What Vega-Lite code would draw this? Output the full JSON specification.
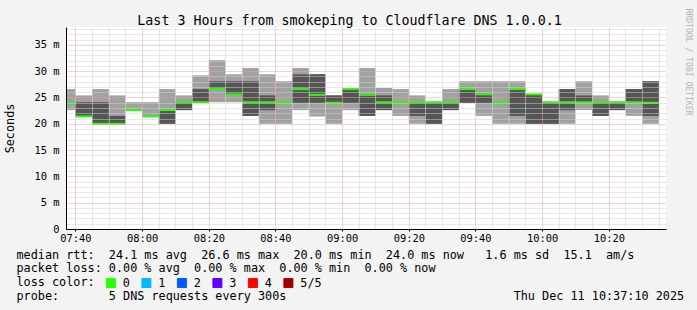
{
  "$schema": "https://vega.github.io/schema/vega-lite/v6.json",
  "width": 600,
  "height": 202,
  "autosize": "none",
  "padding": {"left": 66, "top": 27, "right": 31, "bottom": 81},
  "background": "#f3f3f3",
  "config": {
    "view": {"fill": "#ffffff", "stroke": null},
    "font": "DejaVu Sans Mono"
  },
  "data": {
    "values": [
      {"s": "2025-12-11T07:35", "e": "2025-12-11T07:40", "p1": 22.6, "p2": 24.0, "med": 24.0, "p4": 24.0, "p5": 26.6, "loss": "0"},
      {"s": "2025-12-11T07:40", "e": "2025-12-11T07:45", "p1": 21.4, "p2": 21.4, "med": 21.4, "p4": 24.1, "p5": 25.4, "loss": "0"},
      {"s": "2025-12-11T07:45", "e": "2025-12-11T07:50", "p1": 20.0, "p2": 20.0, "med": 20.0, "p4": 24.1, "p5": 26.6, "loss": "0"},
      {"s": "2025-12-11T07:50", "e": "2025-12-11T07:55", "p1": 20.0, "p2": 20.0, "med": 20.0, "p4": 21.5, "p5": 25.4, "loss": "0"},
      {"s": "2025-12-11T07:55", "e": "2025-12-11T08:00", "p1": 22.6, "p2": 22.6, "med": 22.6, "p4": 22.6, "p5": 24.1, "loss": "0"},
      {"s": "2025-12-11T08:00", "e": "2025-12-11T08:05", "p1": 21.4, "p2": 21.4, "med": 21.4, "p4": 21.4, "p5": 24.1, "loss": "0"},
      {"s": "2025-12-11T08:05", "e": "2025-12-11T08:10", "p1": 20.0, "p2": 20.0, "med": 22.6, "p4": 22.6, "p5": 26.6, "loss": "0"},
      {"s": "2025-12-11T08:10", "e": "2025-12-11T08:15", "p1": 22.6, "p2": 22.6, "med": 24.1, "p4": 24.1, "p5": 25.4, "loss": "0"},
      {"s": "2025-12-11T08:15", "e": "2025-12-11T08:20", "p1": 24.1, "p2": 24.1, "med": 24.1, "p4": 26.6, "p5": 29.2, "loss": "0"},
      {"s": "2025-12-11T08:20", "e": "2025-12-11T08:25", "p1": 24.1, "p2": 26.6, "med": 26.6, "p4": 28.1, "p5": 32.1, "loss": "0"},
      {"s": "2025-12-11T08:25", "e": "2025-12-11T08:30", "p1": 24.1, "p2": 25.6, "med": 25.6, "p4": 28.1, "p5": 29.4, "loss": "0"},
      {"s": "2025-12-11T08:30", "e": "2025-12-11T08:35", "p1": 21.5, "p2": 21.5, "med": 24.1, "p4": 28.1, "p5": 30.6, "loss": "0"},
      {"s": "2025-12-11T08:35", "e": "2025-12-11T08:40", "p1": 20.0, "p2": 22.6, "med": 24.1, "p4": 25.4, "p5": 29.4, "loss": "0"},
      {"s": "2025-12-11T08:40", "e": "2025-12-11T08:45", "p1": 20.0, "p2": 24.1, "med": 24.1, "p4": 24.1, "p5": 28.1, "loss": "0"},
      {"s": "2025-12-11T08:45", "e": "2025-12-11T08:50", "p1": 22.6, "p2": 24.0, "med": 26.6, "p4": 29.4, "p5": 30.6, "loss": "0"},
      {"s": "2025-12-11T08:50", "e": "2025-12-11T08:55", "p1": 21.4, "p2": 24.0, "med": 25.5, "p4": 29.4, "p5": 29.4, "loss": "0"},
      {"s": "2025-12-11T08:55", "e": "2025-12-11T09:00", "p1": 20.0, "p2": 24.0, "med": 24.0, "p4": 25.4, "p5": 25.4, "loss": "0"},
      {"s": "2025-12-11T09:00", "e": "2025-12-11T09:05", "p1": 22.6, "p2": 24.0, "med": 26.6, "p4": 26.6, "p5": 26.6, "loss": "0"},
      {"s": "2025-12-11T09:05", "e": "2025-12-11T09:10", "p1": 21.5, "p2": 21.5, "med": 25.5, "p4": 25.5, "p5": 30.6, "loss": "0"},
      {"s": "2025-12-11T09:10", "e": "2025-12-11T09:15", "p1": 22.6, "p2": 22.6, "med": 24.1, "p4": 25.4, "p5": 26.8, "loss": "0"},
      {"s": "2025-12-11T09:15", "e": "2025-12-11T09:20", "p1": 21.5, "p2": 24.1, "med": 24.1, "p4": 24.1, "p5": 26.6, "loss": "0"},
      {"s": "2025-12-11T09:20", "e": "2025-12-11T09:25", "p1": 20.0, "p2": 21.5, "med": 24.1, "p4": 24.1, "p5": 25.4, "loss": "0"},
      {"s": "2025-12-11T09:25", "e": "2025-12-11T09:30", "p1": 20.0, "p2": 20.0, "med": 24.1, "p4": 24.1, "p5": 24.1, "loss": "0"},
      {"s": "2025-12-11T09:30", "e": "2025-12-11T09:35", "p1": 22.6, "p2": 22.6, "med": 24.1, "p4": 24.1, "p5": 26.6, "loss": "0"},
      {"s": "2025-12-11T09:35", "e": "2025-12-11T09:40", "p1": 24.0, "p2": 24.0, "med": 26.6, "p4": 26.6, "p5": 28.1, "loss": "0"},
      {"s": "2025-12-11T09:40", "e": "2025-12-11T09:45", "p1": 21.5, "p2": 24.0, "med": 25.6, "p4": 25.6, "p5": 28.1, "loss": "0"},
      {"s": "2025-12-11T09:45", "e": "2025-12-11T09:50", "p1": 20.0, "p2": 24.1, "med": 24.1, "p4": 24.1, "p5": 28.1, "loss": "0"},
      {"s": "2025-12-11T09:50", "e": "2025-12-11T09:55", "p1": 20.0, "p2": 21.5, "med": 26.6, "p4": 26.6, "p5": 28.1, "loss": "0"},
      {"s": "2025-12-11T09:55", "e": "2025-12-11T10:00", "p1": 20.0, "p2": 20.0, "med": 25.6, "p4": 25.6, "p5": 25.6, "loss": "0"},
      {"s": "2025-12-11T10:00", "e": "2025-12-11T10:05", "p1": 20.0, "p2": 20.0, "med": 24.1, "p4": 24.1, "p5": 24.1, "loss": "0"},
      {"s": "2025-12-11T10:05", "e": "2025-12-11T10:10", "p1": 20.0, "p2": 22.6, "med": 24.1, "p4": 26.6, "p5": 26.6, "loss": "0"},
      {"s": "2025-12-11T10:10", "e": "2025-12-11T10:15", "p1": 22.6, "p2": 24.1, "med": 24.1, "p4": 25.4, "p5": 28.1, "loss": "0"},
      {"s": "2025-12-11T10:15", "e": "2025-12-11T10:20", "p1": 21.5, "p2": 21.5, "med": 24.1, "p4": 24.1, "p5": 25.4, "loss": "0"},
      {"s": "2025-12-11T10:20", "e": "2025-12-11T10:25", "p1": 22.6, "p2": 22.6, "med": 24.1, "p4": 24.1, "p5": 24.1, "loss": "0"},
      {"s": "2025-12-11T10:25", "e": "2025-12-11T10:30", "p1": 21.5, "p2": 24.1, "med": 24.1, "p4": 26.6, "p5": 26.6, "loss": "0"},
      {"s": "2025-12-11T10:30", "e": "2025-12-11T10:35", "p1": 20.0, "p2": 21.5, "med": 24.0, "p4": 28.1, "p5": 28.1, "loss": "0"}
    ]
  },
  "resolve": {"axis": {"x": "independent", "y": "independent"}},
  "layer": [
    {
      "mark": {"type": "rect", "color": "#a1a1a1", "clip": true},
      "encoding": {
        "x": {
          "field": "s", "type": "temporal",
          "scale": {"domain": [
            {"year": 2025, "month": 12, "date": 11, "hours": 7, "minutes": 37, "seconds": 10},
            {"year": 2025, "month": 12, "date": 11, "hours": 10, "minutes": 37, "seconds": 10}
          ]},
          "axis": {
            "orient": "bottom",
            "values": [
              {"year": 2025, "month": 12, "date": 11, "hours": 7, "minutes": 40},
              {"year": 2025, "month": 12, "date": 11, "hours": 8, "minutes": 0},
              {"year": 2025, "month": 12, "date": 11, "hours": 8, "minutes": 20},
              {"year": 2025, "month": 12, "date": 11, "hours": 8, "minutes": 40},
              {"year": 2025, "month": 12, "date": 11, "hours": 9, "minutes": 0},
              {"year": 2025, "month": 12, "date": 11, "hours": 9, "minutes": 20},
              {"year": 2025, "month": 12, "date": 11, "hours": 9, "minutes": 40},
              {"year": 2025, "month": 12, "date": 11, "hours": 10, "minutes": 0},
              {"year": 2025, "month": 12, "date": 11, "hours": 10, "minutes": 20}
            ],
            "format": "%H:%M",
            "labelOverlap": false,
            "labelFlush": false,
            "labelFont": "DejaVu Sans Mono",
            "labelFontSize": 10.4,
            "labelColor": "#000000",
            "labelPadding": 2,
            "grid": true,
            "gridColor": "#f2a0a0",
            "gridDash": [1, 1],
            "gridOpacity": 1,
            "ticks": true,
            "tickSize": 2,
            "tickColor": "#000000",
            "domainColor": "#000000",
            "zindex": 1,
            "title": [
              "median rtt:\u00a0\u00a024.1\u00a0ms\u00a0avg\u00a0\u00a026.6\u00a0ms\u00a0max\u00a0\u00a020.0\u00a0ms\u00a0min\u00a0\u00a024.0\u00a0ms\u00a0now\u00a0\u00a0\u00a01.6\u00a0ms\u00a0sd\u00a0\u00a015.1\u00a0\u00a0am/s",
              "packet\u00a0loss:\u00a00.00\u00a0%\u00a0avg\u00a0\u00a00.00\u00a0%\u00a0max\u00a0\u00a00.00\u00a0%\u00a0min\u00a0\u00a00.00\u00a0%\u00a0now",
              "loss\u00a0color:",
              "probe:\u00a0\u00a0\u00a0\u00a0\u00a0\u00a0\u00a05\u00a0DNS\u00a0requests\u00a0every\u00a0300s\u00a0\u00a0\u00a0\u00a0\u00a0\u00a0\u00a0\u00a0\u00a0\u00a0\u00a0\u00a0\u00a0\u00a0\u00a0\u00a0\u00a0\u00a0\u00a0\u00a0\u00a0\u00a0\u00a0\u00a0\u00a0\u00a0\u00a0\u00a0\u00a0\u00a0\u00a0\u00a0Thu\u00a0Dec\u00a011\u00a010:37:10\u00a02025"
            ],
            "titleFont": "DejaVu Sans Mono",
            "titleFontSize": 11.8,
            "titleFontWeight": "normal",
            "titleColor": "#000000",
            "titleAlign": "left",
            "titleAnchor": "start",
            "titleBaseline": "top",
            "titleLineHeight": 13.8,
            "titleX": -50,
            "titleY": 20
          }
        },
        "x2": {"field": "e"},
        "y": {
          "field": "p1", "type": "quantitative",
          "scale": {"domain": [0, 38.4], "nice": false},
          "axis": {
            "orient": "left",
            "values": [0, 5, 10, 15, 20, 25, 30, 35],
            "labelExpr": "datum.value === 0 ? '0\u00a0\u00a0' : datum.value + '\u00a0m'",
            "labelFont": "DejaVu Sans Mono",
            "labelFontSize": 10.4,
            "labelColor": "#000000",
            "labelPadding": 7,
            "labelOverlap": false,
            "ticks": false,
            "grid": true,
            "gridColor": "#f2a0a0",
            "gridDash": [1, 1],
            "gridOpacity": 1,
            "domainColor": "#000000",
            "zindex": 1,
            "title": "Seconds",
            "titleFont": "DejaVu Sans Mono",
            "titleFontSize": 11.8,
            "titleFontWeight": "normal",
            "titleColor": "#000000",
            "titlePadding": 18
          }
        },
        "y2": {"field": "p5"}
      }
    },
    {
      "mark": {"type": "rect", "color": "#555555", "clip": true},
      "encoding": {
        "x": {
          "field": "s", "type": "temporal",
          "axis": {
            "orient": "top",
            "values": [
              {"year": 2025, "month": 12, "date": 11, "hours": 7, "minutes": 45},
              {"year": 2025, "month": 12, "date": 11, "hours": 7, "minutes": 50},
              {"year": 2025, "month": 12, "date": 11, "hours": 7, "minutes": 55},
              {"year": 2025, "month": 12, "date": 11, "hours": 8, "minutes": 5},
              {"year": 2025, "month": 12, "date": 11, "hours": 8, "minutes": 10},
              {"year": 2025, "month": 12, "date": 11, "hours": 8, "minutes": 15},
              {"year": 2025, "month": 12, "date": 11, "hours": 8, "minutes": 25},
              {"year": 2025, "month": 12, "date": 11, "hours": 8, "minutes": 30},
              {"year": 2025, "month": 12, "date": 11, "hours": 8, "minutes": 35},
              {"year": 2025, "month": 12, "date": 11, "hours": 8, "minutes": 45},
              {"year": 2025, "month": 12, "date": 11, "hours": 8, "minutes": 50},
              {"year": 2025, "month": 12, "date": 11, "hours": 8, "minutes": 55},
              {"year": 2025, "month": 12, "date": 11, "hours": 9, "minutes": 5},
              {"year": 2025, "month": 12, "date": 11, "hours": 9, "minutes": 10},
              {"year": 2025, "month": 12, "date": 11, "hours": 9, "minutes": 15},
              {"year": 2025, "month": 12, "date": 11, "hours": 9, "minutes": 25},
              {"year": 2025, "month": 12, "date": 11, "hours": 9, "minutes": 30},
              {"year": 2025, "month": 12, "date": 11, "hours": 9, "minutes": 35},
              {"year": 2025, "month": 12, "date": 11, "hours": 9, "minutes": 45},
              {"year": 2025, "month": 12, "date": 11, "hours": 9, "minutes": 50},
              {"year": 2025, "month": 12, "date": 11, "hours": 9, "minutes": 55},
              {"year": 2025, "month": 12, "date": 11, "hours": 10, "minutes": 5},
              {"year": 2025, "month": 12, "date": 11, "hours": 10, "minutes": 10},
              {"year": 2025, "month": 12, "date": 11, "hours": 10, "minutes": 15},
              {"year": 2025, "month": 12, "date": 11, "hours": 10, "minutes": 25},
              {"year": 2025, "month": 12, "date": 11, "hours": 10, "minutes": 30},
              {"year": 2025, "month": 12, "date": 11, "hours": 10, "minutes": 35}
            ],
            "labels": false, "ticks": false, "domain": false, "title": null,
            "grid": true,
            "gridColor": "#d0d0d0",
            "gridDash": [1, 1],
            "gridOpacity": 1,
            "zindex": 1
          }
        },
        "x2": {"field": "e"},
        "y": {
          "field": "p2", "type": "quantitative",
          "axis": {
            "orient": "right",
            "values": [1,2,3,4,6,7,8,9,11,12,13,14,16,17,18,19,21,22,23,24,26,27,28,29,31,32,33,34,36,37,38],
            "labels": false, "ticks": false, "domain": false, "title": null,
            "grid": true,
            "gridColor": "#d0d0d0",
            "gridDash": [1, 1],
            "gridOpacity": 1,
            "zindex": 1
          }
        },
        "y2": {"field": "p4"}
      }
    },
    {
      "mark": {"type": "rule", "strokeWidth": 2, "clip": true},
      "encoding": {
        "x": {
          "field": "s", "type": "temporal",
          "axis": {
            "orient": "top",
            "labels": false, "ticks": false, "domain": false, "grid": false,
            "title": "Last 3 Hours from smokeping to Cloudflare DNS 1.0.0.1",
            "titleFont": "DejaVu Sans Mono",
            "titleFontSize": 13.3,
            "titleFontWeight": "normal",
            "titleColor": "#000000",
            "titleAlign": "center",
            "titleBaseline": "middle",
            "titleX": 283,
            "titleY": -7
          }
        },
        "x2": {"field": "e"},
        "y": {
          "field": "med", "type": "quantitative",
          "axis": {
            "orient": "right",
            "labels": false, "ticks": false, "domain": false, "grid": false,
            "title": "RRDTOOL / TOBI OETIKER",
            "titleFont": "DejaVu Sans Mono",
            "titleFontSize": 8.1,
            "titleFontWeight": "normal",
            "titleColor": "#b5b5b5",
            "titleAngle": 90,
            "titleAlign": "left",
            "titleBaseline": "middle",
            "titleX": 21,
            "titleY": -19
          }
        },
        "color": {
          "field": "loss", "type": "nominal",
          "scale": {"domain": ["0", "1", "2", "3", "4", "5/5"], "range": ["#26ff00", "#00b8ff", "#0059ff", "#5e00ff", "#ff0000", "#a00000"]},
          "legend": {
            "orient": "none",
            "legendX": 39,
            "legendY": 250,
            "direction": "horizontal",
            "title": null,
            "labelFont": "DejaVu Sans Mono",
            "labelFontSize": 11.8,
            "labelColor": "#000000",
            "labelOffset": 6,
            "columnPadding": 9.5,
            "padding": 0,
            "symbolType": "square",
            "symbolSize": 81,
            "symbolStrokeWidth": 1,
            "encode": {
              "symbols": {
                "update": {
                  "fill": {"scale": "color", "field": "value"},
                  "stroke": {"value": "#000000"},
                  "strokeWidth": {"value": 1},
                  "opacity": {"value": 1}
                }
              }
            }
          }
        }
      }
    }
  ]
}
